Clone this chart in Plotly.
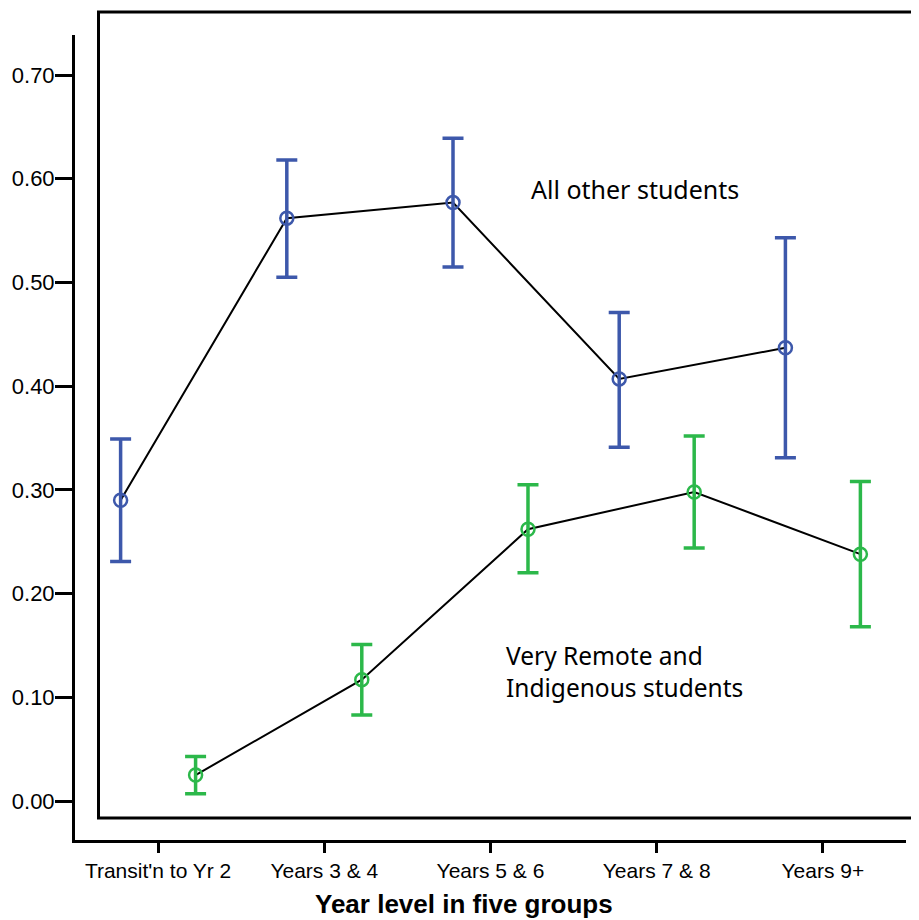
import plotly.graph_objects as go

# ---------------- data ----------------
categories = ["Transit'n to Yr 2", "Years 3 & 4", "Years 5 & 6", "Years 7 & 8", "Years 9+"]

other_mean = [0.290, 0.562, 0.577, 0.407, 0.437]
other_upper = [0.349, 0.618, 0.639, 0.471, 0.543]
other_lower = [0.231, 0.505, 0.515, 0.341, 0.331]

remote_mean = [0.025, 0.117, 0.262, 0.298, 0.238]
remote_upper = [0.043, 0.151, 0.305, 0.352, 0.308]
remote_lower = [0.007, 0.083, 0.220, 0.244, 0.168]

y_tick_vals = [0.0, 0.1, 0.2, 0.3, 0.4, 0.5, 0.6, 0.7]
y_tick_text = ["0.00", "0.10", "0.20", "0.30", "0.40", "0.50", "0.60", "0.70"]

label_other = "All other students"
label_remote = "Very Remote and<br>Indigenous students"
x_title = "Year level in five groups"

# ---------------- styling ----------------
PAGE_OFF = 8            # browser default body margin
W, H = 919 - PAGE_OFF, 920 - PAGE_OFF
L, R, T, B = 67, 13, 27, 80
BLUE = "#3D58AB"
GREEN = "#2CB84A"
OFFSET = 0.2256
TXT_FONT = "Noto Sans"
AX_FONT = "Liberation Sans, Arial, sans-serif"

pw, ph = W - L - R, H - T - B


def px_x(x):
    """page pixel -> paper x"""
    return (x - PAGE_OFF - L) / pw


def px_y(y):
    """page pixel -> paper y"""
    return (H - B - (y - PAGE_OFF)) / ph


idx = list(range(len(categories)))
x_other = [i - OFFSET for i in idx]
x_remote = [i + OFFSET for i in idx]

fig = go.Figure()

# connecting lines through the means
for xs, ys in ((x_other, other_mean), (x_remote, remote_mean)):
    fig.add_trace(go.Scatter(x=xs, y=ys, mode="lines",
                             line=dict(color="black", width=2),
                             hoverinfo="skip", showlegend=False))

for xs, m, up, lo, col in ((x_other, other_mean, other_upper, other_lower, BLUE),
                           (x_remote, remote_mean, remote_upper, remote_lower, GREEN)):
    fig.add_trace(go.Scatter(
        x=xs, y=m, mode="markers", showlegend=False,
        marker=dict(symbol="circle-open", size=13, color=col, line=dict(width=2.5, color=col)),
        error_y=dict(type="data", symmetric=False,
                     array=[u - v for u, v in zip(up, m)],
                     arrayminus=[v - l for v, l in zip(m, lo)],
                     color=col, thickness=3.5, width=10.5),
    ))

fig.update_xaxes(
    range=[-0.5, 4.5], tickmode="array", tickvals=idx, ticktext=categories,
    showline=True, linecolor="black", linewidth=3, automargin=False,
    ticks="outside", ticklen=10, tickwidth=2.5, tickcolor="black",
    showgrid=False, zeroline=False,
    tickfont=dict(family=AX_FONT, size=21, color="black"),
)
fig.update_yaxes(
    range=[-0.0376, 0.7386], tickmode="array", tickvals=y_tick_vals, ticktext=y_tick_text,
    showline=True, linecolor="black", linewidth=3, automargin=False,
    ticks="outside", ticklen=17, tickwidth=2.5, tickcolor="black",
    ticklabelstandoff=-4,
    showgrid=False, zeroline=False,
    tickfont=dict(family=AX_FONT, size=22, color="black"),
)

# inner frame
fig.add_shape(type="rect", xref="paper", yref="paper",
              x0=px_x(98.5), x1=px_x(940), y0=px_y(818), y1=px_y(12),
              line=dict(color="black", width=3), fillcolor="rgba(0,0,0,0)", layer="below")

fig.add_annotation(x=px_x(529), y=px_y(189), xref="paper", yref="paper",
                   text=label_other, showarrow=False, xanchor="left", yanchor="middle",
                   font=dict(family=TXT_FONT, size=25, color="black"))
fig.add_annotation(x=px_x(504), y=px_y(671), xref="paper", yref="paper",
                   text=label_remote, showarrow=False, xanchor="left", yanchor="middle",
                   align="left", font=dict(family=TXT_FONT, size=24.5, color="black"))
fig.add_annotation(x=px_x(464), y=px_y(904), xref="paper", yref="paper",
                   text="<b>" + x_title + "</b>", showarrow=False, xanchor="center", yanchor="middle",
                   font=dict(family=AX_FONT, size=26, color="black"))

fig.update_layout(
    width=W, height=H, margin=dict(l=L, r=R, t=T, b=B, pad=0),
    paper_bgcolor="white", plot_bgcolor="white", showlegend=False,
)

fig.write_html("out.html")
